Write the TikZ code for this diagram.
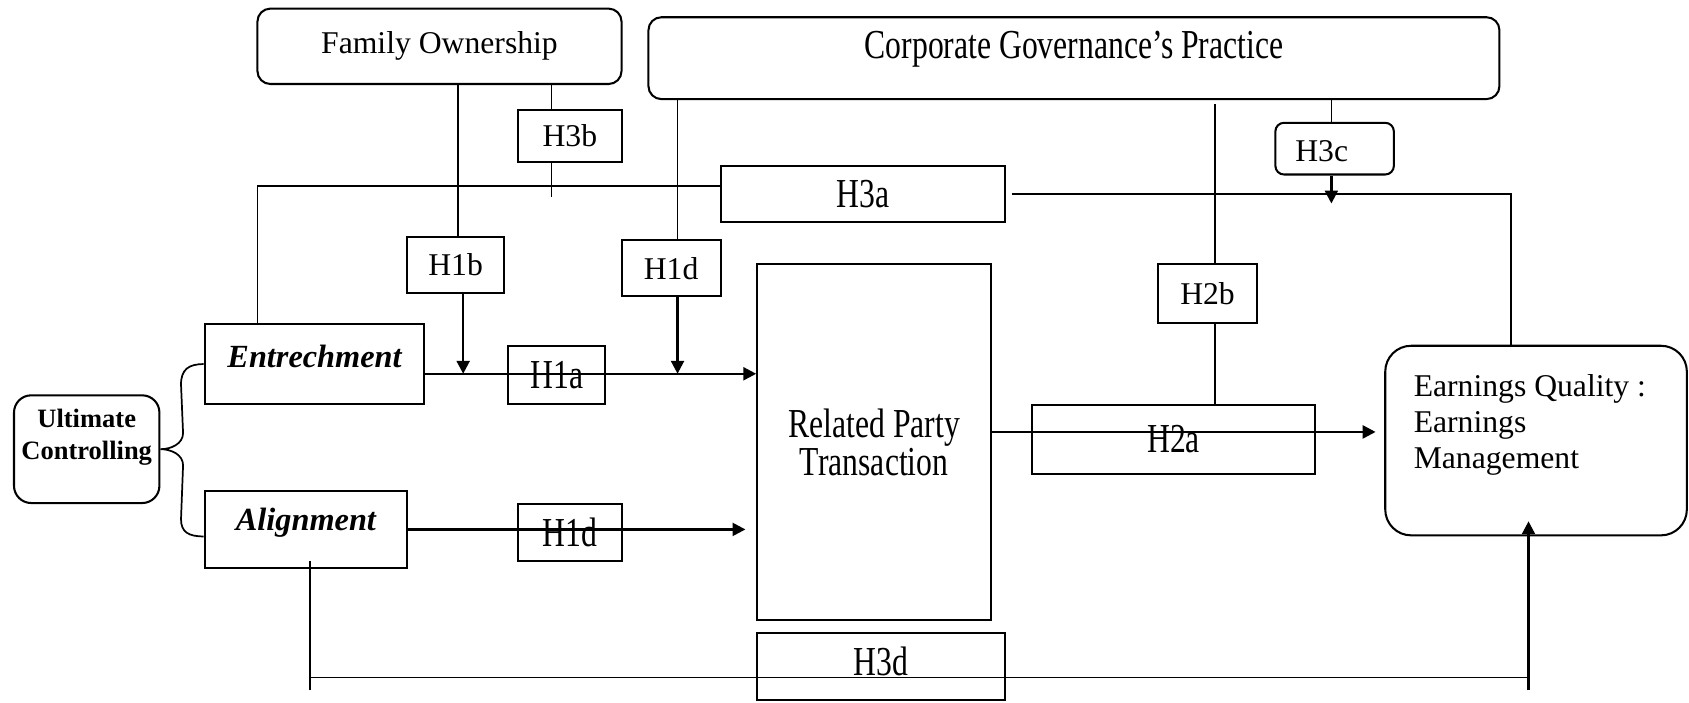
\documentclass[tikz,border=0pt]{standalone}
\usepackage{fontspec}
\setmainfont{Liberation Serif}
\usetikzlibrary{arrows.meta,calc}
% vertically stretched text, as in several boxes
\newcommand{\tallt}[1]{\scalebox{1}[1.3]{#1}}
\begin{document}
\begin{tikzpicture}[x=0.5pt,y=-0.5pt,
  font=\fontsize{14.7}{17.5}\selectfont,
  box/.style={draw, line width=0.95pt, inner sep=0pt, align=center},
  rbox/.style={box, rounded corners=#1},
  rbox/.default=6pt,
  conn/.style={line width=0.8pt},
  arr/.style={line width=1.15pt, -{Triangle[length=6pt,width=6pt]}},
  bitext/.style={font=\fontsize{15}{17}\selectfont\bfseries\itshape}
]
\useasboundingbox (0,0) rectangle (1568,652);

% ---- boxes ----
\node[rbox, minimum width=169pt, minimum height=35pt] (fam) at (408,43) {Family Ownership};
\node[rbox, minimum width=395pt, minimum height=38pt,
      label={[yshift=4pt]center:\tallt{Corporate Governance’s Practice}}] (cgp) at (997,54) {};
\node[box, minimum width=48pt, minimum height=24pt] (h3b) at (529,126) {H3b};
\node[box, minimum width=132pt, minimum height=26pt] (h3a) at (801,180) {\tallt{H3a}};
\node[rbox=4pt, minimum width=55pt, minimum height=24pt,
      label={[xshift=-6pt,yshift=-1pt]center:H3c}] (h3c) at (1239,138) {};
\node[box, minimum width=45pt, minimum height=26pt] (h1b) at (423,246) {H1b};
\node[box, minimum width=46pt, minimum height=26pt] (h1dt) at (623,249) {H1d};
\node[box, minimum width=108.5pt, minimum height=165.5pt] (rpt) at (811.5,410.5)
      {\tallt{Related Party}\\\tallt{Transaction}};
\node[box, minimum width=46pt, minimum height=27.5pt] (h2b) at (1121,272.5) {H2b};
\node[box, minimum width=102pt, minimum height=37pt,
      label={[bitext,yshift=3.5pt]center:Entrechment}] (ent) at (292,338) {};
\node[box, minimum width=45pt, minimum height=27pt] (h1a) at (517,348) {\tallt{H1a}};
\node[rbox=8pt, minimum width=67.5pt, minimum height=50pt,
      label={[font=\fontsize{12.3}{14.5}\selectfont\bfseries, align=center, yshift=5.5pt]center:Ultimate\\Controlling}] (uc) at (80.5,417) {};
\node[box, minimum width=131.5pt, minimum height=32pt] (h2a) at (1089.5,408) {\tallt{H2a}};
\node[rbox=12pt, minimum width=140pt, minimum height=88pt] (eq) at (1426,409) {};
\node[anchor=north west, inner sep=0pt, align=left, font=\fontsize{14.7}{16.7}\selectfont]
      (eqtext) at ([xshift=13.5pt,yshift=-13.5pt]eq.north west) {Earnings Quality :\\Earnings\\Management};
\node[box, minimum width=94pt, minimum height=35.5pt,
      label={[bitext,yshift=3pt]center:Alignment}] (aln) at (284,491.5) {};
\node[box, minimum width=48pt, minimum height=26.5pt] (h1db) at (529,494.5) {\tallt{H1d}};
\node[box, minimum width=115pt, minimum height=31pt,
      label={[yshift=2.5pt]center:\tallt{H3d}}] (h3d) at (818,619) {};

% ---- H3a: entrenchment to earnings quality ----
\draw[conn] ([xshift=-26.5pt]ent.north) |- ([yshift=3.5pt]h3a.west);
\draw[conn] ([xshift=3pt]h3a.east) -| ([xshift=-11.5pt]eq.north);

% ---- family ownership links ----
\coordinate (h1bin) at ([xshift=1pt]h1b.north);
\draw[conn] (h1bin |- fam.south) -- (h1bin);
\coordinate (h1bout) at ([xshift=3.5pt]h1b.south);
\coordinate (entout) at ([yshift=-4.5pt]ent.east);
\draw[arr] (h1bout) -- (h1bout |- entout);

\coordinate (h3bx) at ([xshift=-8.5pt]h3b.north);
\draw[conn] (h3bx |- fam.south) -- (h3bx);
\coordinate (h3bend) at ([xshift=-8.5pt,yshift=-16pt]h3b.south);
\draw[conn] (h3bx |- h3b.south) -- (h3bend);

% ---- corporate governance links ----
\coordinate (h1dtin) at ([xshift=3pt]h1dt.north);
\draw[conn] (h1dtin |- cgp.south) -- (h1dtin);
\coordinate (h1dtout) at ([xshift=3pt]h1dt.south);
\draw[arr] (h1dtout) -- (h1dtout |- entout);

\coordinate (h2bx) at ([xshift=3.5pt]h2b.north);
\draw[conn] ($(h2bx |- cgp.south)+(0,4)$) -- (h2bx);
\draw[conn] (h2bx |- h2b.south) -- (h2bx |- h2a.north);

\coordinate (h3cx) at ([xshift=-1.5pt]h3c.north);
\draw[conn] (h3cx |- cgp.south) -- (h3cx);
\coordinate (h3ctip) at ([xshift=-1.5pt,yshift=-13pt]h3c.south);
\draw[arr] (h3cx |- h3c.south) -- (h3ctip);

% ---- main paths ----
\draw[arr] (entout) -- (rpt.west |- entout);
\coordinate (rptnear) at ([xshift=-5pt]rpt.west);
\draw[arr] (aln.east) -- (rptnear |- aln.east);
\coordinate (rptout) at ([yshift=4.75pt]rpt.east);
\coordinate (eqin) at ([xshift=-4pt]eq.west);
\draw[arr] (rptout) -- (eqin |- rptout);

% ---- H3d: alignment to earnings quality ----
\coordinate (alnx) at ([xshift=2pt]aln.south);
\coordinate (alntop) at ([yshift=3.5pt]alnx);
\coordinate (alnbot) at ([yshift=-56.5pt]alnx);
\draw[conn] (alntop) -- (alnbot);
\coordinate (h3dl) at ([yshift=-50.5pt]alnx);
\coordinate (eqx) at ([xshift=-3.5pt]eq.south);
\coordinate (eqtip) at ([yshift=7pt]eqx);
\coordinate (eqbot) at ([yshift=-71.5pt]eqx);
\draw[conn] (h3dl) -- (eqx |- h3dl);
\draw[arr] (eqbot) -- (eqtip);

% ---- brace from ultimate controlling ----
\coordinate (bt) at (ent.west);
\coordinate (bb) at ([yshift=-3.25pt]aln.west);
\coordinate (bm) at (uc.east);
\draw[conn] (bt) .. controls ($(bt)+(-14,0)$) and ($(bt)+(-21,5)$) .. ($(bt)+(-21,19)$)
  -- ($(bm)+(21,-15)$) .. controls ($(bm)+(21,-5)$) and ($(bm)+(10,0)$) .. (bm)
  .. controls ($(bm)+(10,0)$) and ($(bm)+(21,5)$) .. ($(bm)+(21,15)$)
  -- ($(bb)+(-21,-16)$) .. controls ($(bb)+(-21,-4)$) and ($(bb)+(-14,0)$) .. (bb);
\end{tikzpicture}
\end{document}
